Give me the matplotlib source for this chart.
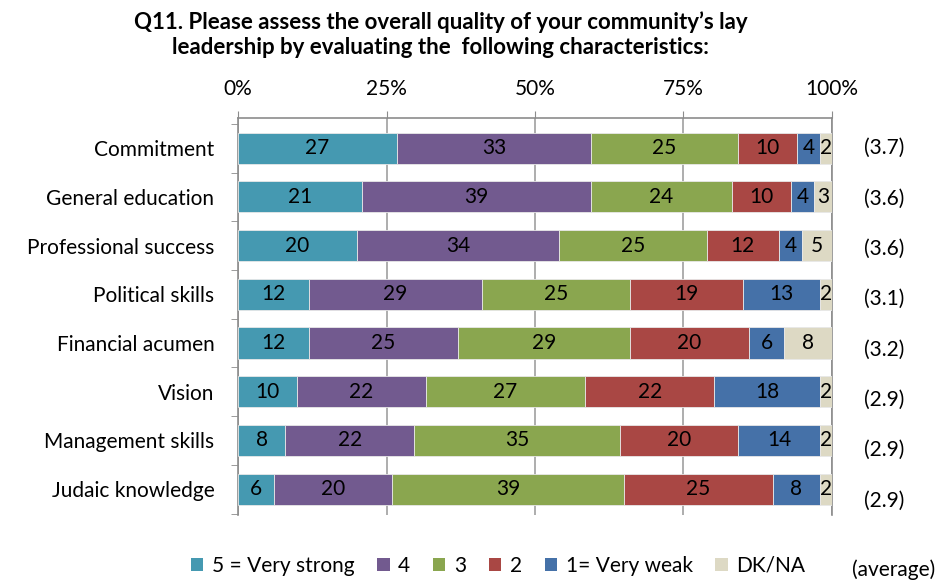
import matplotlib
matplotlib.use("Agg")
import matplotlib.pyplot as plt
import numpy as np
from matplotlib.patches import Patch

plt.rcParams['font.family'] = ['Lato', 'DejaVu Sans']

categories = ["Commitment", "General education", "Professional success", "Political skills",
              "Financial acumen", "Vision", "Management skills", "Judaic knowledge"]
very_strong = [27, 21, 20, 12, 12, 10, 8, 6]
four = [33, 39, 34, 29, 25, 22, 22, 20]
three = [25, 24, 25, 25, 29, 27, 35, 39]
two = [10, 10, 12, 19, 20, 22, 20, 25]
very_weak = [4, 4, 4, 13, 6, 18, 14, 8]
dk_na = [2, 3, 5, 2, 8, 2, 2, 2]
averages = ["(3.7)", "(3.6)", "(3.6)", "(3.1)", "(3.2)", "(2.9)", "(2.9)", "(2.9)"]
series_names = ["5 = Very strong", "4", "3", "2", "1= Very weak", "DK/NA"]
colors = ["#4599B1", "#725A8F", "#8AA64F", "#A94744", "#4571A8", "#DDD9C4"]
x_ticks = [0, 25, 50, 75, 100]
x_tick_labels = ["0%", "25%", "50%", "75%", "100%"]

series = np.array([very_strong, four, three, two, very_weak, dk_na], dtype=float)
shares = series / series.sum(axis=0) * 100

FS = 15

fig = plt.figure(figsize=(9.45, 5.84), dpi=100)
ax = fig.add_axes([0.2519, 0.1182, 0.8804 - 0.2519, 0.798 - 0.1182])

y = np.arange(len(categories))
left = np.zeros(len(categories))
for vals, shr, col in zip(series, shares, colors):
    ax.barh(y, shr, left=left, height=0.64, color=col, edgecolor="#E8E8E8",
            linewidth=0.6, zorder=3)
    for yi, v, l, s in zip(y, vals, left, shr):
        ax.text(l + s / 2, yi, f"{int(v)}", ha="center", va="center",
                fontsize=FS, color="black", zorder=4)
    left += shr

ax.set_xlim(0, 100)
ax.set_ylim(7.53, -0.62)
ax.xaxis.tick_top()
ax.set_xticks(x_ticks)
ax.set_xticklabels(x_tick_labels, fontsize=FS)
ax.tick_params(axis="x", direction="out", length=5, color="#8C8C8C", pad=9)
ax.set_yticks(y)
ax.set_yticklabels(categories, fontsize=FS)
ax.set_yticks(np.arange(len(categories) + 1) - 0.5, minor=True)
ax.tick_params(axis="y", which="major", length=0, pad=17)
ax.tick_params(axis="y", which="minor", direction="out", length=5, color="#8C8C8C")
ax.grid(axis="x", color="#A0A0A0", linewidth=1.2, zorder=0)

for side in ["top", "left", "right"]:
    ax.spines[side].set_color("#8C8C8C")
    ax.spines[side].set_linewidth(1.2)
ax.spines["bottom"].set_visible(False)

# average score column to the right of the bars
for i, a in enumerate(averages):
    ax.text(1.0875, i * 1.033, a, transform=ax.get_yaxis_transform(),
            ha="center", va="center", fontsize=FS)

fig.text(0.466, 0.962, "Q11. Please assess the overall quality of your community\u2019s lay",
         ha="center", va="center", fontsize=16, fontweight="bold")
fig.text(0.466, 0.918, "leadership by evaluating the  following characteristics:",
         ha="center", va="center", fontsize=16, fontweight="bold")

handles = [Patch(facecolor=c, edgecolor="none") for c in colors]
fig.legend(handles, series_names, loc="center", bbox_to_anchor=(0.527, 0.031),
           ncol=6, frameon=False, fontsize=FS, handlelength=0.6, handleheight=0.6,
           handletextpad=0.4, columnspacing=1.1)
fig.text(0.946, 0.024, "(average)", ha="center", va="center", fontsize=FS)

fig.savefig("out.png", dpi=100)
